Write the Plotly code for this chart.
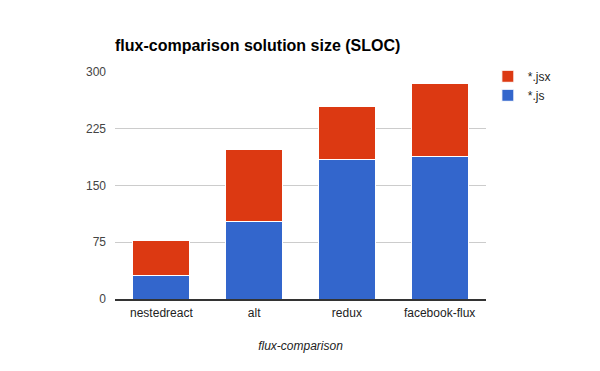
import plotly.graph_objects as go

categories = ["nestedreact", "alt", "redux", "facebook-flux"]
js_values = [31, 102, 184, 188]
jsx_values = [46, 96, 71, 97]
y_ticks = [0, 75, 150, 225, 300]

FONT = "Liberation Sans, Arial, sans-serif"

fig = go.Figure()
fig.add_trace(go.Bar(x=categories, y=js_values, name="*.js",
                     marker=dict(color="#3366CC", line=dict(color="white", width=1))))
fig.add_trace(go.Bar(x=categories, y=jsx_values, name="*.jsx",
                     marker=dict(color="#DC3912", line=dict(color="white", width=1))))

fig.update_layout(
    width=600, height=371,
    barmode="stack", bargap=0.385,
    paper_bgcolor="white", plot_bgcolor="white",
    margin=dict(l=115, r=114, t=72, b=72),
    font=dict(family=FONT, size=12, color="#222"),
    title=dict(text="<b>flux-comparison solution size (SLOC)</b>",
               x=115/600, xanchor="left", y=1-45/371, yanchor="middle",
               font=dict(family=FONT, size=16, color="black")),
    legend=dict(traceorder="reversed", x=1.005, xanchor="left", y=1.045, yanchor="top",
                font=dict(family=FONT, size=12, color="#222"), bgcolor="rgba(0,0,0,0)",
                itemwidth=30, tracegroupgap=0),
    xaxis=dict(title=dict(text="<i>flux-comparison</i>", font=dict(family=FONT, size=12, color="#222"), standoff=22),
               showgrid=False, showline=True, linecolor="#333", linewidth=1.5,
               tickfont=dict(family=FONT, size=12, color="#222"), ticks="", ticklabelstandoff=2),
    yaxis=dict(range=[0, 300], tickvals=y_ticks, showgrid=True, gridcolor="#ccc",
               zeroline=False, showline=False, ticks="",
               tickfont=dict(family=FONT, size=12, color="#444"), ticklabelstandoff=8),
)

fig.write_html("out.html")
